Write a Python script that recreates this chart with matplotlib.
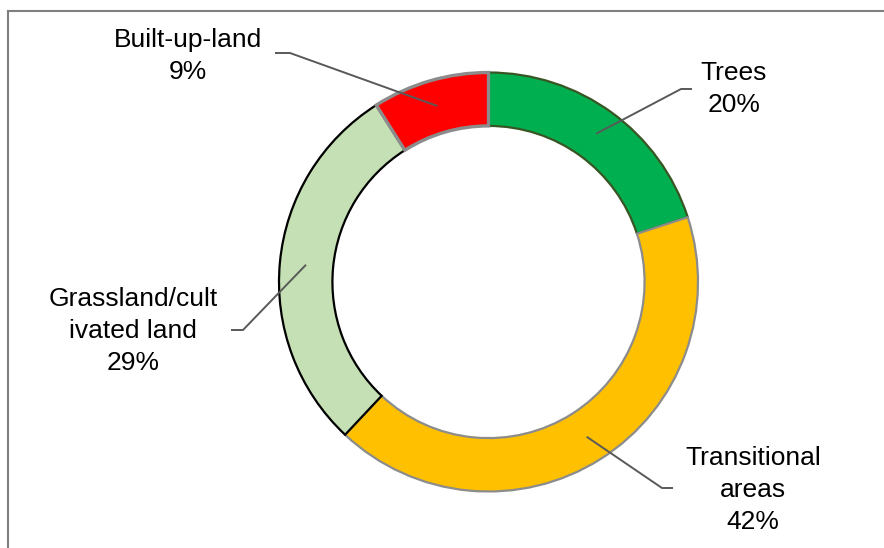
import matplotlib
matplotlib.use("Agg")
import matplotlib.pyplot as plt
import numpy as np
from matplotlib.lines import Line2D

plt.rcParams['font.family'] = ['Liberation Sans', 'DejaVu Sans']

# land cover shares (percent), drawn clockwise from 12 o'clock
labels = ['Trees', 'Transitional\nareas', 'Grassland/cult\nivated land', 'Built-up-land']
shares = [20, 42, 29, 9]
fills = ['#00B050', '#FFC000', '#C5E0B4', '#FF0000']
edges = ['#375623', '#8C8C8C', '#000000', '#8C8C8C']
edge_w = [1.6, 1.6, 1.6, 2.4]

W, H = 884, 548
cx, cy, R = 488.5, 282, 209.5   # pixel centre and outer radius

fig = plt.figure(figsize=(W / 100, H / 100), dpi=100)
ax = fig.add_axes([0, 0, 1, 1])

wedges, _ = ax.pie(shares, colors=fills, startangle=90, counterclock=False,
                   radius=1, wedgeprops=dict(width=0.255))
for w, ec, lw in zip(wedges, edges, edge_w):
    w.set_edgecolor(ec)
    w.set_linewidth(lw)

# pie() resets the limits, so set them afterwards
ax.set_xlim(-cx / R, (W - cx) / R)
ax.set_ylim(-(H - cy) / R, cy / R)
ax.set_aspect('equal', adjustable='datalim')
ax.axis('off')

def px(x, y):
    return (x - cx) / R, (cy - y) / R

# label text centre, elbow of leader, outer end of leader (pixels)
label_pos = [(734, 89), (753, 490), (133, 331), (188, 56)]
elbow = [(681, 89), (662, 488), (243, 330), (290, 53)]
tail = [(692, 89), (673, 488), (231, 330), (275, 53)]

for w, lab, s, lp, el, tl in zip(wedges, labels, shares, label_pos, elbow, tail):
    mid = np.deg2rad((w.theta1 + w.theta2) / 2)
    r = 0.875
    p0 = (r * np.cos(mid), r * np.sin(mid))
    e = px(*el)
    t = px(*tl)
    ax.plot([p0[0], e[0], t[0]], [p0[1], e[1], t[1]], color='#595959',
            lw=1.4, solid_capstyle='butt', zorder=5)
    tx, ty = px(*lp)
    ax.text(tx, ty, f"{lab}\n{s}%", ha='center', va='center', fontsize=19,
            linespacing=1.42, color='black')

# chart frame (only top and left edges fall inside the image)
fig.add_artist(Line2D([8 / W, 1], [1 - 11 / H, 1 - 11 / H], color='#7F7F7F', lw=1.5))
fig.add_artist(Line2D([8 / W, 8 / W], [0, 1 - 11 / H], color='#7F7F7F', lw=1.5))

fig.savefig('out.png', dpi=100)
